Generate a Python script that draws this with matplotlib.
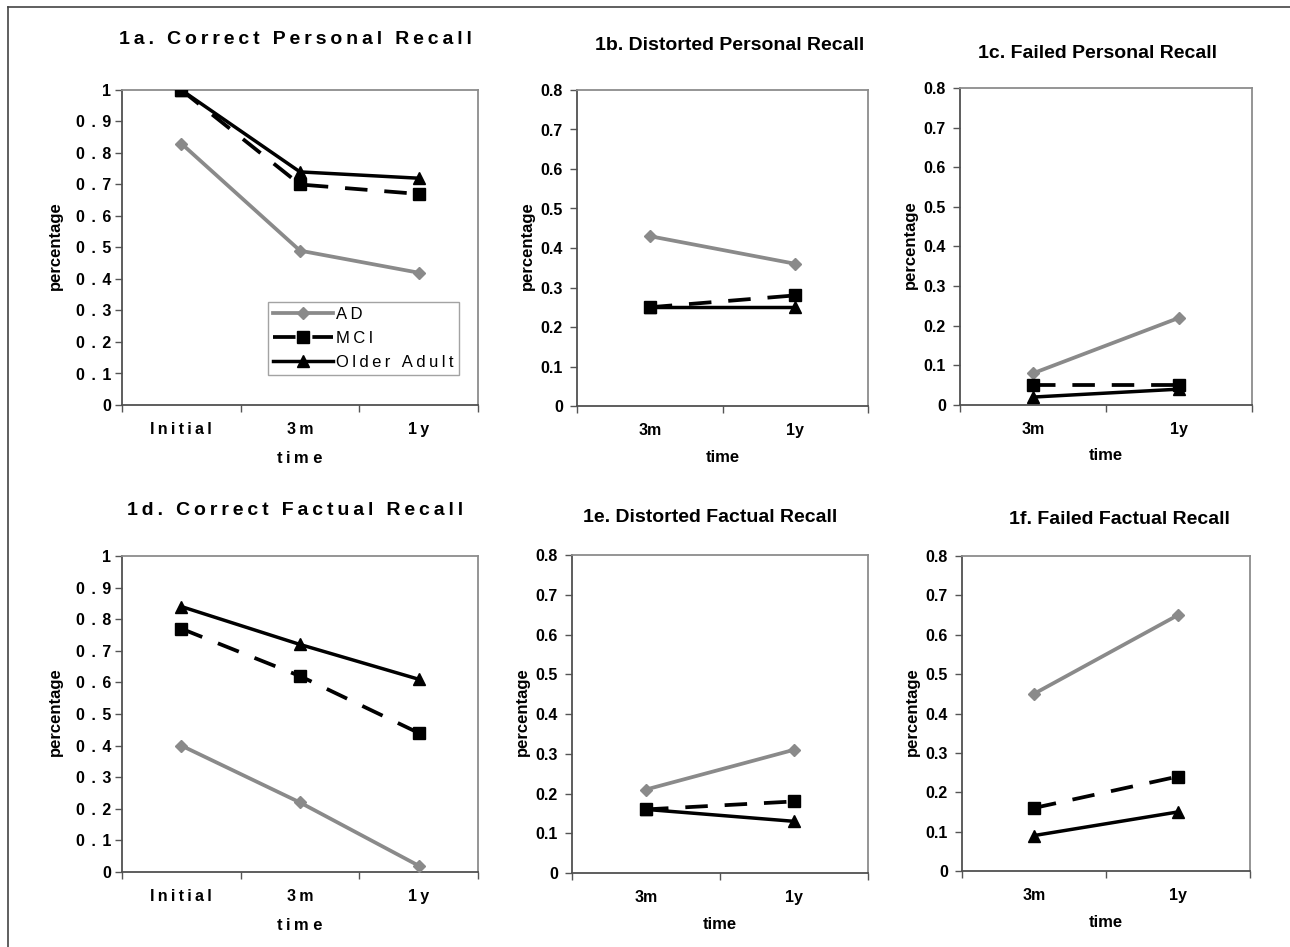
import numpy as np
import matplotlib
matplotlib.use('Agg')
import matplotlib.pyplot as plt
from matplotlib.lines import Line2D

plt.rcParams['font.family'] = ['Liberation Sans', 'DejaVu Sans']

W, H = 1290, 947

# values
times3 = ['Initial', '3m', '1y']
times2 = ['3m', '1y']
groups = ['AD', 'MCI', 'Older Adult']

ad_1a = [0.83, 0.49, 0.42]
mci_1a = [1.0, 0.70, 0.67]
oa_1a = [1.0, 0.74, 0.72]

ad_1b = [0.43, 0.36]
mci_1b = [0.25, 0.28]
oa_1b = [0.25, 0.25]

ad_1c = [0.08, 0.22]
mci_1c = [0.05, 0.05]
oa_1c = [0.02, 0.04]

ad_1d = [0.40, 0.22, 0.02]
mci_1d = [0.77, 0.62, 0.44]
oa_1d = [0.84, 0.72, 0.61]

ad_1e = [0.21, 0.31]
mci_1e = [0.16, 0.18]
oa_1e = [0.16, 0.13]

ad_1f = [0.45, 0.65]
mci_1f = [0.16, 0.24]
oa_1f = [0.09, 0.15]

yticks_10 = [0, 0.1, 0.2, 0.3, 0.4, 0.5, 0.6, 0.7, 0.8, 0.9, 1]
yticks_08 = [0, 0.1, 0.2, 0.3, 0.4, 0.5, 0.6, 0.7, 0.8]


def sp(s, n=1):
    # the excel export spread letters apart in the wide panels
    return ('\u2009' * n).join(s)


fig = plt.figure(figsize=(W / 100, H / 100), dpi=100)


def ftext(x, y, s, **kw):
    fig.text(x / W, 1 - y / H, s, ha='center', va='center', fontweight='bold', **kw)


def panel(box, title, tpos, cats, ad, mci, oa, yt, spaced, ylx, xl, xly, legend=False):
    l, t, r, b = box
    ax = fig.add_axes([l / W, 1 - b / H, (r - l) / W, (b - t) / H])
    x = np.arange(len(cats))
    ax.plot(x, ad, color='#8a8a8a', lw=2.7, marker='D', ms=6.5, label=groups[0], zorder=3)
    ax.plot(x, mci, color='black', lw=2.7, ls=(0, (6, 4.5)), marker='s', ms=8.5, label=groups[1], zorder=4)
    ax.plot(x, oa, color='black', lw=2.5, marker='^', ms=8.5, label=groups[2], zorder=5)
    ax.set_xlim(-0.5, len(cats) - 0.5)
    ax.set_ylim(0, yt[-1])
    if spaced:
        ax.set_yticks(yt, [sp('%g' % v, 2) for v in yt])
        ax.set_xticks(x, [sp(c) for c in cats])
    else:
        ax.set_yticks(yt, ['%g' % v for v in yt])
        ax.set_xticks(x, cats)
    ax.set_xticks(np.arange(-0.5, len(cats)), minor=True)
    ax.tick_params(axis='x', which='major', length=0, pad=12, labelsize=11.5)
    ax.tick_params(axis='x', which='minor', length=5, width=1, color='#555555', direction='out')
    ax.tick_params(axis='y', length=5, width=1, color='#555555', pad=3 if spaced else 5, labelsize=11.5)
    for lab in ax.get_xticklabels() + ax.get_yticklabels():
        lab.set_fontweight('bold')
    for s in ['top', 'right']:
        ax.spines[s].set_color('#8c8c8c')
        ax.spines[s].set_linewidth(1.3)
    for s in ['left', 'bottom']:
        ax.spines[s].set_color('#505050')
        ax.spines[s].set_linewidth(1.3)
    ftext(tpos[0], tpos[1], sp(title) if spaced else title, fontsize=14)
    ftext(ylx, (t + b) / 2 - 2, 'percentage', fontsize=12, rotation=90)
    ftext((l + r) / 2, xly, xl, fontsize=12)
    if legend:
        lg = ax.legend(loc='lower left', bbox_to_anchor=(0.41, 0.095), numpoints=1,
                       handlelength=3.6, handletextpad=0.2, borderpad=0.3, labelspacing=0.55,
                       frameon=True, fancybox=False, borderaxespad=0,
                       prop={'size': 12})
        lg.get_frame().set_edgecolor('#8c8c8c')
        lg.get_frame().set_linewidth(1.0)
        for txt in lg.get_texts():
            txt.set_text(sp(txt.get_text()))
    return ax


panel((122, 90, 478, 405), '1a. Correct Personal Recall', (295, 40), times3,
      ad_1a, mci_1a, oa_1a, yticks_10, True, 55, sp('tim') + ' ' + 'e', 458, legend=True)
panel((577, 90, 868, 406), '1b. Distorted Personal Recall', (730, 45), times2,
      ad_1b, mci_1b, oa_1b, yticks_08, False, 527, 'time', 457)
panel((960, 88, 1252, 405), '1c. Failed Personal Recall', (1098, 53), times2,
      ad_1c, mci_1c, oa_1c, yticks_08, False, 910, 'time', 455)
panel((122, 556, 478, 872), '1d. Correct Factual Recall', (295, 510), times3,
      ad_1d, mci_1d, oa_1d, yticks_10, True, 55, sp('tim') + ' ' + 'e', 925)
panel((572, 555, 868, 873), '1e. Distorted Factual Recall', (710, 517), times2,
      ad_1e, mci_1e, oa_1e, yticks_08, False, 522, 'time', 924)
panel((962, 556, 1250, 871), '1f. Failed Factual Recall', (1119, 520), times2,
      ad_1f, mci_1f, oa_1f, yticks_08, False, 912, 'time', 922)

# outer frame (top and left edges are visible in the scan)
fig.add_artist(Line2D([8 / W, 1], [1 - 7 / H, 1 - 7 / H], color='#444444', lw=1.2))
fig.add_artist(Line2D([8 / W, 8 / W], [0, 1 - 7 / H], color='#444444', lw=1.2))

fig.savefig('out.png', dpi=100)
